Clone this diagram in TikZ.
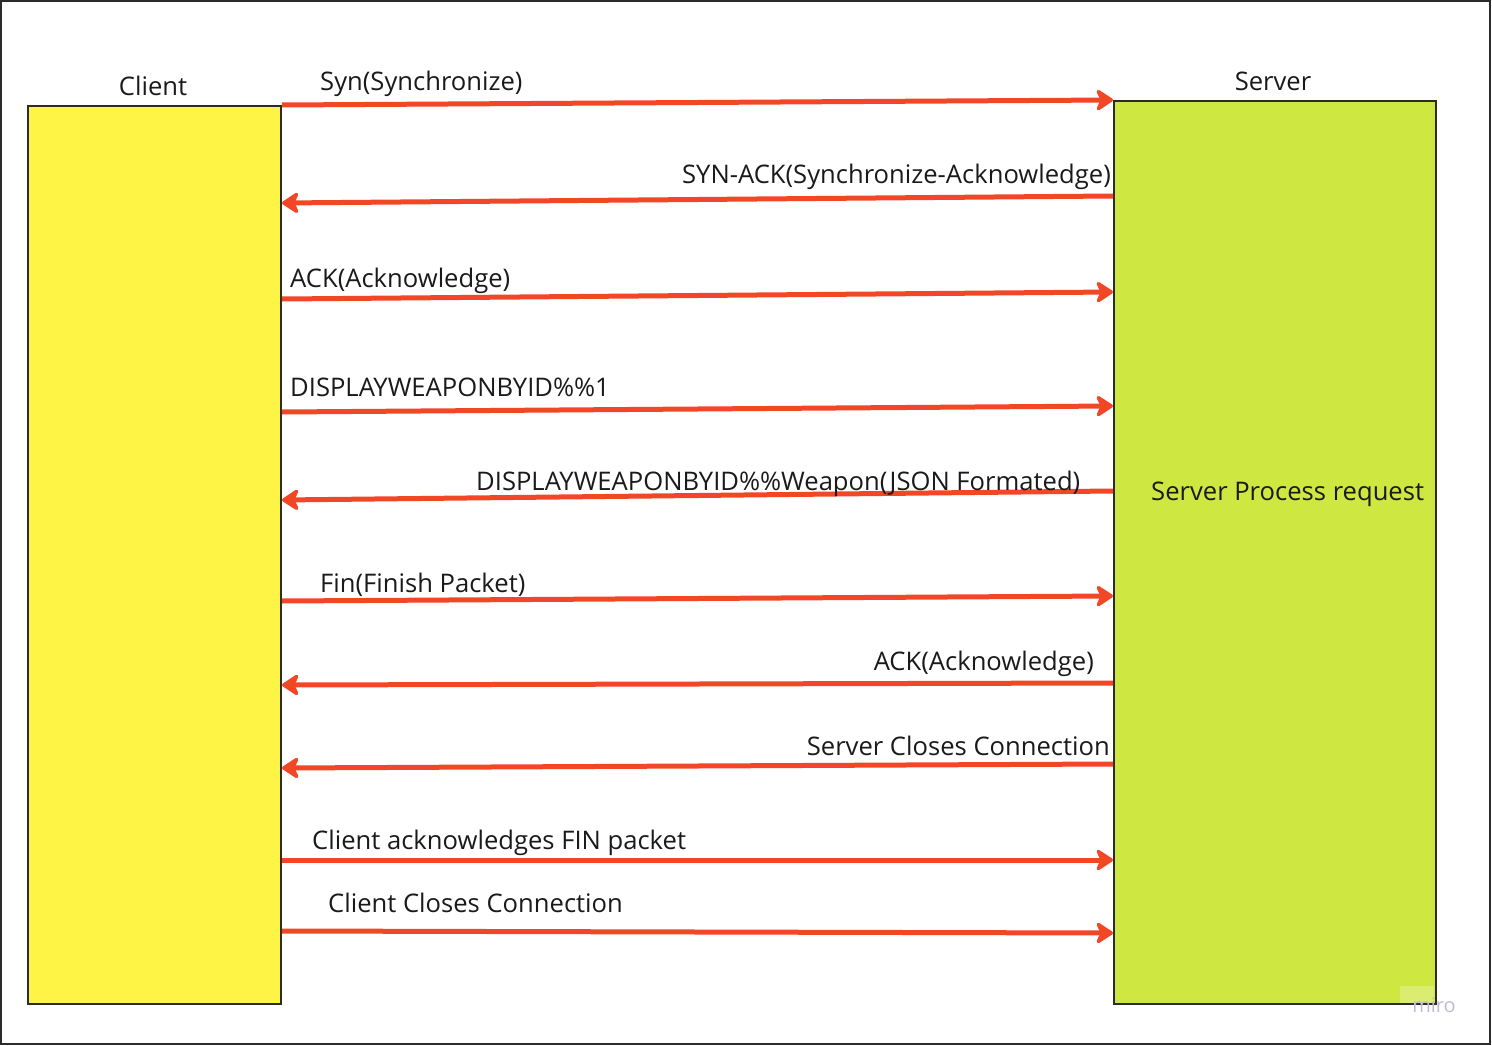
\documentclass[tikz,border=0pt]{standalone}
\usepackage{fontspec}
\setmainfont{Open Sans}
\usetikzlibrary{arrows.meta}
\definecolor{cyel}{HTML}{FEF445}
\definecolor{cgrn}{HTML}{CEE741}
\definecolor{cred}{HTML}{F24726}
\definecolor{ctxt}{HTML}{1A1A1A}
\definecolor{cframe}{HTML}{2B2B2B}
\definecolor{cmiro}{HTML}{BDBDCF}
\begin{document}
\begin{tikzpicture}[x=1pt,y=-1pt,
  box/.style={draw=cframe, line width=2pt, inner sep=0pt, anchor=north west},
  msg/.style={draw=cred, line width=5pt, -{Stealth[length=20pt,width=26pt,inset=6pt,round]}},
  lbl/.style={font=\fontsize{25.6}{30}\selectfont, text=ctxt, inner sep=0pt}]
\useasboundingbox (0,0) rectangle (1492,1046);
\draw[cframe, line width=2pt] (1,1) rectangle (1490,1044);

\node[box, fill=cyel, minimum width=253pt, minimum height=898pt] (client) at (27,105) {};
\node[box, fill=cgrn, minimum width=322pt, minimum height=903pt] (server) at (1113,100) {};

\node[lbl, anchor=base] (clientlbl) at (153,96) {Client};
\node[lbl, anchor=base] (serverlbl) at (1273,91) {Server};
\node[lbl, anchor=base west] (proc) at (1151,500) {Server Process request};

% connector end points on box edges
\path (client.east |- 0,105) coordinate (c1)  (server.west |- 0,100) coordinate (s1);
\path (server.west |- 0,196) coordinate (s2)  (client.east |- 0,203) coordinate (c2);
\path (client.east |- 0,299) coordinate (c3)  (server.west |- 0,292) coordinate (s3);
\path (client.east |- 0,412) coordinate (c4)  (server.west |- 0,406) coordinate (s4);
\path (server.west |- 0,491) coordinate (s5)  (client.east |- 0,500) coordinate (c5);
\path (client.east |- 0,601) coordinate (c6)  (server.west |- 0,596) coordinate (s6);
\path (server.west |- 0,683) coordinate (s7)  (client.east |- 0,685) coordinate (c7);
\path (server.west |- 0,764) coordinate (s8)  (client.east |- 0,768) coordinate (c8);
\path (client.east |- 0,860) coordinate (c9)  (server.west |- 0,860) coordinate (s9);
\path (client.east |- 0,931) coordinate (c10) (server.west |- 0,933) coordinate (s10);

\draw[msg] (c1) -- (s1);
\draw[msg] (s2) -- (c2);
\draw[msg] (c3) -- (s3);
\draw[msg] (c4) -- (s4);
\draw[msg] (s5) -- (c5);
\draw[msg] (c6) -- (s6);
\draw[msg] (s7) -- (c7);
\draw[msg] (s8) -- (c8);
\draw[msg] (c9) -- (s9);
\draw[msg] (c10) -- (s10);

\node[lbl, anchor=base west] (l1) at (320,91) {Syn(Synchronize)};
\node[lbl, anchor=base east] (l2) at (1111,184) {SYN-ACK(Synchronize-Acknowledge)};
\node[lbl, anchor=base west] (l3) at (290,287) {ACK(Acknowledge)};
\node[lbl, anchor=base west] (l4) at (290,396) {DISPLAYWEAPONBYID\%\%1};
\node[lbl, anchor=base west] (l5) at (476,490) {DISPLAYWEAPONBYID\%\%Weapon(JSON Formated)};
\node[lbl, anchor=base west] (l6) at (320,592) {Fin(Finish Packet)};
\node[lbl, anchor=base east] (l7) at (1094,670) {ACK(Acknowledge)};
\node[lbl, anchor=base east] (l8) at (1110,755) {Server Closes Connection};
\node[lbl, anchor=base west] (l9) at (312,849) {Client acknowledges FIN packet};
\node[lbl, anchor=base west] (l10) at (328,912) {Client Closes Connection};

\fill[white, opacity=0.25] (1400,986) rectangle (1434,1003);
\node[font=\fontsize{20}{24}\selectfont, text=cmiro, inner sep=0pt, anchor=base] (miro) at (1434,1012) {miro};
\end{tikzpicture}
\end{document}
